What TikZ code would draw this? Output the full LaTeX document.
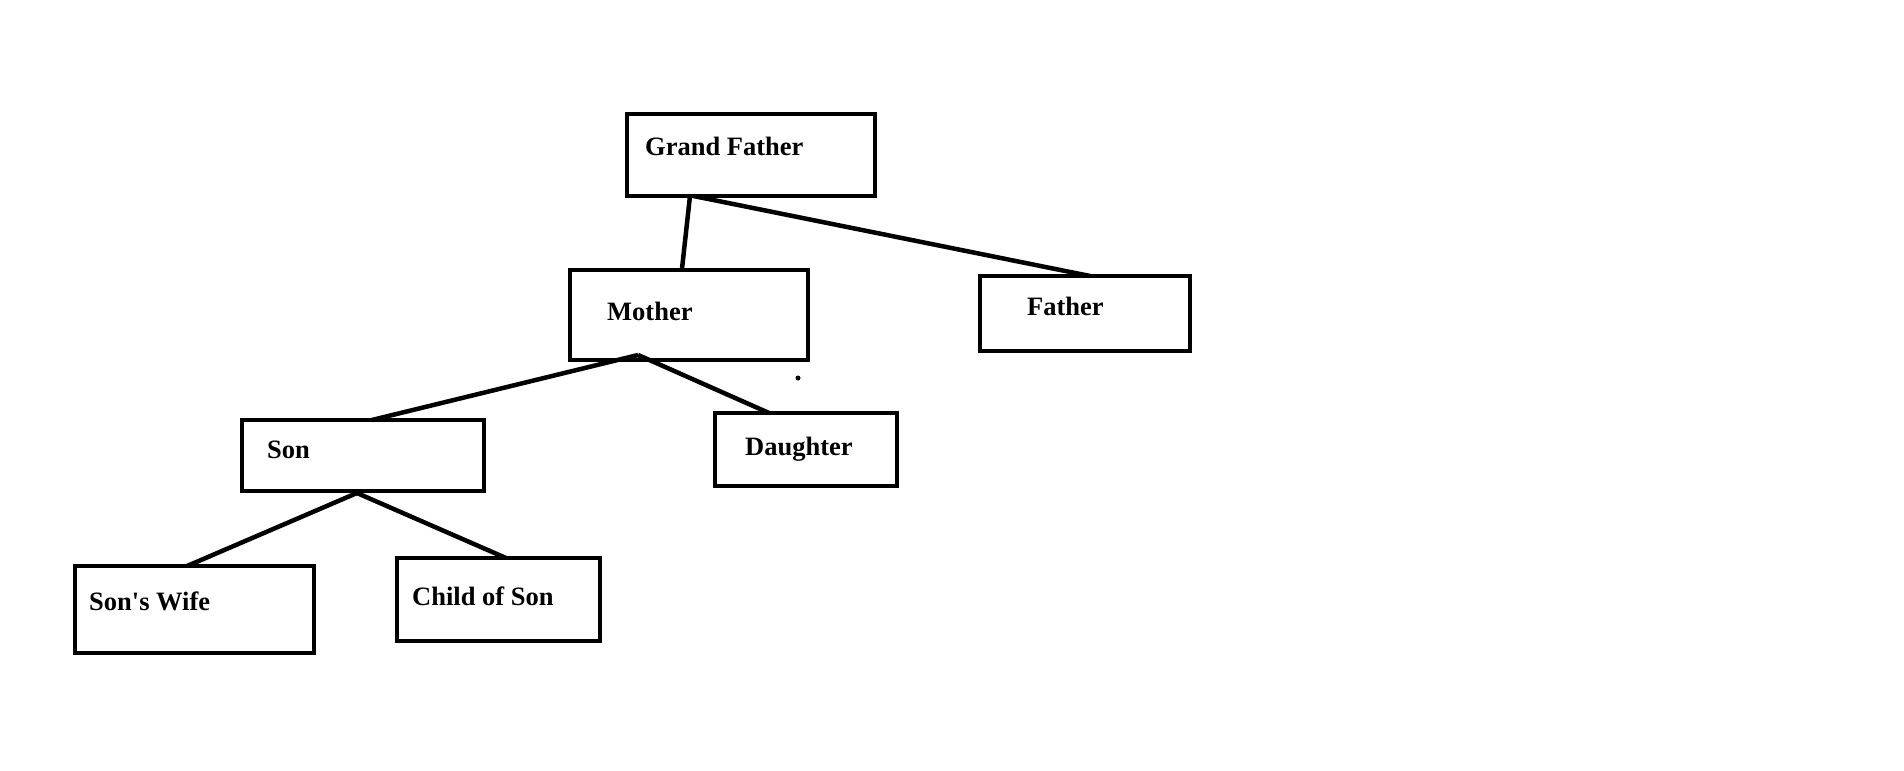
\documentclass[tikz,border=0pt]{standalone}
\usepackage{fontspec}
\setmainfont{Liberation Serif}
\usetikzlibrary{calc}
\tikzset{
  x=1pt, y=1pt,
  box/.style={draw, rectangle, line width=4.5pt, inner sep=0pt, outer sep=0pt},
  lbl/.style={anchor=base west, inner sep=0pt, font=\fontsize{26.5}{30}\selectfont\bfseries},
  conn/.style={line width=4.5pt}
}
\begin{document}
\begin{tikzpicture}
\useasboundingbox (0,0) rectangle (1904,-771);
% boxes
\node[box, minimum width=248, minimum height=82] (gf) at (751,-155) {};
\node[box, minimum width=238, minimum height=90] (mo) at (689,-315) {};
\node[box, minimum width=210, minimum height=75] (fa) at (1085,-313.5) {};
\node[box, minimum width=242, minimum height=71] (so) at (363,-455.5) {};
\node[box, minimum width=182, minimum height=73] (da) at (806,-449.5) {};
\node[box, minimum width=239, minimum height=87] (sw) at (194.5,-609.5) {};
\node[box, minimum width=203, minimum height=83] (cs) at (498.5,-599.5) {};
% labels
\node[lbl] (gft) at (645,-155) {Grand Father};
\node[lbl] (mot) at (607,-320) {Mother};
\node[lbl] (fat) at (1027,-315) {Father};
\node[lbl] (sot) at (267,-458) {Son};
\node[lbl] (dat) at (745,-455) {Daughter};
\node[lbl] (swt) at (89,-610) {Son\textquotesingle s Wife};
\node[lbl] (cst) at (412,-605) {Child of Son};
% junction points
\coordinate (gfj1) at ($(gf.south west)!0.254!(gf.south east)$);
\coordinate (gfj2) at ($(gf.south west)!0.268!(gf.south east)$);
\coordinate (moj) at ($(mo.south west)!0.286!(mo.south east)+(0,5)$);
\coordinate (soj) at ($(so.south west)!0.475!(so.south east)+(0,-2)$);
% connectors
\draw[conn] (gfj1) -- ($(mo.north west)!0.47!(mo.north east)$);
\draw[conn] (gfj2) -- ($(fa.north west)!0.524!(fa.north east)$);
\draw[conn] (moj) -- ($(so.north west)!0.537!(so.north east)$);
\draw[conn] (moj) -- ($(da.north west)!0.297!(da.north east)$);
\draw[conn] (soj) -- ($(sw.north west)!0.469!(sw.north east)$);
\draw[conn] (soj) -- ($(cs.north west)!0.537!(cs.north east)$);
% stray dot
\fill (798,-378) circle (2.5);
\end{tikzpicture}
\end{document}
